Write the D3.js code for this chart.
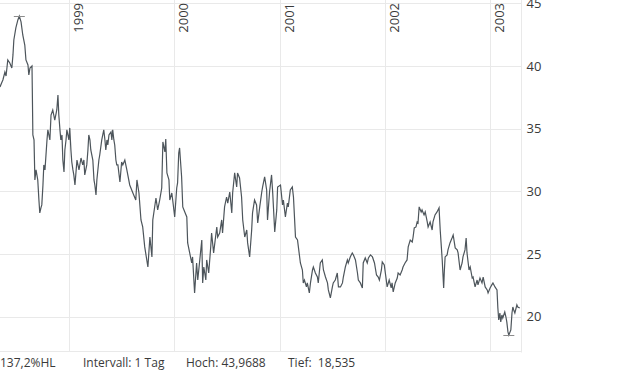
<!DOCTYPE html>
<html>
<head>
<meta charset="utf-8">
<script src="https://cdn.jsdelivr.net/npm/d3@7"></script>
<style>
  body { margin: 0; background: #fff; }
  text { font-family: "Open Sans", "Noto Sans", sans-serif; fill: #3a3a3a; }
</style>
</head>
<body>
<svg id="chart" width="620" height="372"></svg>
<script>
// [day of year, close] per year
const close1998 = [
  [126, 38.33], [133, 38.72], [136, 38.88], [143, 39.52], [147, 39.2], [153, 40.48],
  [160, 40.24], [167, 39.84], [171, 40.88], [174, 42.07], [181, 43.03], [188, 43.67],
  [193, 43.9688], [199, 43.51], [205, 42.47], [212, 41.67], [216, 40.48], [223, 40.08],
  [226, 39.28], [230, 39.84], [237, 40.0], [238, 38.25], [240, 34.5], [244, 34.1],
  [247, 30.91], [251, 31.71], [254, 31.31], [257, 30.91], [261, 29.31], [264, 28.28],
  [268, 28.68], [271, 28.92], [275, 30.51], [278, 32.11], [282, 31.71], [289, 34.1],
  [292, 34.9], [299, 34.1], [303, 36.09], [309, 36.49], [316, 35.69], [323, 36.49],
  [327, 37.69], [330, 36.09], [334, 34.9], [337, 34.1], [341, 34.5], [344, 32.5],
  [348, 31.55], [351, 33.3], [355, 34.1], [358, 34.9], [365, 34.1]
];
const close1999 = [
  [3, 35.06], [7, 33.3], [10, 32.34], [14, 31.71], [17, 31.31], [21, 30.51], [28, 32.5],
  [35, 31.71], [42, 32.66], [48, 32.11], [52, 32.5], [55, 31.31], [62, 32.11], [66, 33.3],
  [69, 34.5], [73, 34.1], [76, 33.3], [83, 32.5], [87, 30.91], [90, 30.51], [94, 29.71],
  [97, 30.91], [104, 32.5], [107, 32.9], [114, 34.1], [121, 34.9], [125, 34.1], [128, 33.3],
  [132, 34.1], [135, 33.7], [139, 34.5], [146, 34.74], [149, 34.1], [152, 34.9], [156, 34.1],
  [159, 33.7], [163, 32.5], [166, 32.11], [170, 32.11], [177, 30.75], [183, 32.34],
  [187, 32.11], [194, 32.5], [201, 31.71], [211, 30.51], [222, 29.87], [232, 29.31],
  [236, 30.91], [243, 29.87], [250, 27.72], [256, 27.16], [263, 25.57], [274, 23.97],
  [281, 26.36], [288, 24.77], [291, 27.72], [302, 29.47], [308, 28.52], [315, 29.31],
  [322, 30.27], [326, 33.94], [333, 33.14], [336, 34.18], [340, 31.47], [347, 30.91],
  [350, 29.31], [357, 29.87], [360, 29.31]
];
const close2000 = [
  [2, 27.96], [9, 30.27], [12, 30.67], [16, 33.06], [19, 33.46], [26, 31.15], [30, 28.76],
  [37, 28.36], [44, 27.96], [47, 25.89], [54, 25.09], [61, 24.29], [64, 24.77], [71, 21.9],
  [78, 24.29], [82, 22.93], [89, 24.53], [96, 26.12], [99, 22.7], [103, 23.97], [110, 22.93],
  [113, 24.53], [120, 23.49], [127, 25.57], [130, 26.68], [137, 25.09], [148, 27.16],
  [151, 26.36], [158, 26.68], [165, 27.72], [168, 26.68], [175, 28.76], [182, 29.55],
  [186, 29.07], [193, 29.95], [200, 28.28], [203, 29.87], [210, 31.47], [217, 30.35],
  [220, 31.47], [227, 31.07], [234, 29.55], [238, 27.72], [245, 26.36], [252, 26.92],
  [255, 25.89], [262, 24.77], [269, 26.92], [272, 28.28], [279, 29.31], [286, 28.92],
  [290, 27.48], [297, 28.76], [304, 29.95], [307, 30.35], [314, 31.15], [321, 30.11],
  [324, 27.72], [331, 29.95], [338, 31.31], [342, 29.87], [349, 26.76], [356, 28.52],
  [359, 30.35]
];
const close2001 = [
  [3, 30.51], [10, 28.92], [13, 29.31], [20, 27.96], [27, 29.07], [30, 28.76], [37, 30.11],
  [44, 30.35], [48, 29.55], [55, 26.36], [62, 26.12], [65, 25.57], [72, 24.29], [79, 23.73],
  [82, 22.7], [86, 22.93], [93, 22.38], [96, 22.7], [103, 21.9], [107, 22.7], [114, 23.73],
  [117, 23.97], [124, 23.49], [131, 23.17], [134, 22.7], [141, 24.29], [148, 24.53],
  [152, 23.73], [159, 23.17], [166, 22.7], [169, 22.14], [176, 21.5], [183, 22.38],
  [186, 22.7], [193, 22.93], [200, 23.49], [204, 22.38], [211, 22.38], [218, 22.7],
  [221, 23.17], [228, 23.97], [235, 24.53], [238, 24.29], [245, 24.77], [252, 25.09],
  [256, 24.93], [263, 24.53], [270, 23.49], [273, 22.93], [280, 22.7], [287, 22.3],
  [290, 24.29], [297, 24.69], [304, 24.29], [308, 24.69], [315, 24.93], [322, 24.77],
  [329, 24.29], [336, 23.33], [342, 23.17], [346, 22.93], [353, 23.73], [356, 24.37],
  [363, 24.13]
];
const close2002 = [
  [4, 23.09], [8, 22.38], [15, 22.93], [22, 22.3], [25, 22.7], [29, 21.98], [36, 22.7],
  [43, 23.09], [46, 23.49], [53, 23.33], [60, 23.73], [63, 23.97], [70, 24.29], [77, 24.53],
  [81, 25.57], [88, 26.12], [95, 25.96], [98, 26.36], [102, 27.08], [108, 27.16], [112, 27.56],
  [115, 27.48], [119, 28.76], [126, 28.36], [129, 28.52], [136, 28.12], [140, 28.36],
  [147, 27.56], [150, 27.16], [157, 27.56], [164, 26.92], [167, 27.56], [174, 28.12],
  [181, 28.36], [188, 28.68], [192, 26.92], [195, 25.89], [199, 24.53], [202, 23.17],
  [204, 22.3], [206, 23.49], [209, 24.77], [216, 24.93], [219, 25.33], [226, 25.89],
  [233, 26.28], [237, 26.52], [244, 25.49], [251, 25.33], [254, 25.09], [261, 23.73],
  [268, 24.29], [271, 24.77], [278, 25.33], [282, 26.28], [285, 25.09], [292, 23.73],
  [296, 23.97], [303, 23.09], [306, 23.17], [313, 22.38], [320, 22.93], [323, 22.54],
  [330, 23.09], [337, 22.7], [341, 23.17], [348, 22.38], [355, 22.14], [358, 21.9],
  [365, 22.3]
];
const close2003 = [
  [6, 22.54], [10, 22.7], [17, 22.38], [24, 22.14], [27, 20.7], [30, 19.74], [34, 20.3],
  [37, 19.59], [41, 20.14], [44, 19.9], [51, 20.38], [55, 19.98], [58, 19.59], [62, 18.79],
  [65, 18.535], [72, 18.95], [76, 20.3], [79, 20.78], [82, 20.54], [86, 20.3], [93, 20.94],
  [96, 20.78], [103, 20.7]
];

const xDomain = ["1998-05-06", "2003-04-19"];
const yDomain = [17.19, 45.26];
const yTicks = [20, 25, 30, 35, 40, 45];
const yearTicks = ["1999", "2000", "2001", "2002", "2003"];
const footer = [
  { text: "137,2%HL", x: 0 },
  { text: "Intervall: 1 Tag", x: 83 },
  { text: "Hoch: 43,9688", x: 186 },
  { text: "Tief:  18,535", x: 288 }
];

const parseDay = d3.utcParse("%Y-%j");
const parseDate = d3.utcParse("%Y-%m-%d");

const byYear = { 1998: close1998, 1999: close1999, 2000: close2000, 2001: close2001, 2002: close2002, 2003: close2003 };
const data = [];
Object.entries(byYear).forEach(([year, rows]) => {
  rows.forEach(([day, value]) => {
    data.push({ date: parseDay(year + "-" + String(day).padStart(3, "0")), value });
  });
});

const width = 521.5;
const height = 352;

const svg = d3.select("#chart");

const x = d3.scaleUtc().domain(xDomain.map(parseDate)).range([0, width]);
const y = d3.scaleLinear().domain(yDomain).range([height, 0]);

const grid = svg.append("g").attr("stroke", "#e9e9e9").attr("stroke-width", 1);

grid.selectAll("line.h")
  .data(yTicks)
  .join("line")
  .attr("class", "h")
  .attr("x1", 0)
  .attr("x2", width)
  .attr("y1", (d) => Math.round(y(d)) + 0.5)
  .attr("y2", (d) => Math.round(y(d)) + 0.5);

grid.selectAll("line.v")
  .data(yearTicks)
  .join("line")
  .attr("class", "v")
  .attr("x1", (d) => Math.round(x(parseDay(d + "-001"))) + 0.5)
  .attr("x2", (d) => Math.round(x(parseDay(d + "-001"))) + 0.5)
  .attr("y1", 0)
  .attr("y2", height);

// frame right and bottom
grid.append("line")
  .attr("x1", width).attr("x2", width)
  .attr("y1", 0).attr("y2", height + 0.5);
grid.append("line")
  .attr("x1", 0).attr("x2", width)
  .attr("y1", height - 0.5).attr("y2", height - 0.5);

// right axis labels
const yAxis = d3.axisRight(y).tickValues(yTicks).tickSize(0).tickPadding(5);
svg.append("g")
  .attr("transform", `translate(${width},0)`)
  .call(yAxis)
  .call((g) => g.select(".domain").remove())
  .call((g) => g.selectAll("text")
    .attr("fill", "#3a3a3a")
    .style("font-size", "13px")
    .style("font-family", "'Open Sans', 'Noto Sans', sans-serif"));

// year labels, rotated along the gridlines
svg.append("g")
  .selectAll("text")
  .data(yearTicks)
  .join("text")
  .attr("transform", (d) => `translate(${x(parseDay(d + "-001")) + 14},3) rotate(-90)`)
  .attr("text-anchor", "end")
  .style("font-size", "13px")
  .text((d) => d);

// price line
const line = d3.line()
  .x((d) => x(d.date))
  .y((d) => y(d.value));

svg.append("path")
  .datum(data)
  .attr("fill", "none")
  .attr("stroke", "#4d555b")
  .attr("stroke-width", 1.2)
  .attr("stroke-linejoin", "miter")
  .attr("d", line);

// high / low markers
const hi = d3.greatest(data, (d) => d.value);
const lo = d3.least(data, (d) => d.value);
svg.append("g")
  .attr("stroke", "#8c8c8c")
  .selectAll("line")
  .data([hi, lo])
  .join("line")
  .attr("x1", (d) => x(d.date) - 5.5)
  .attr("x2", (d) => x(d.date) + 5.5)
  .attr("y1", (d) => Math.round(y(d.value)) + 0.5)
  .attr("y2", (d) => Math.round(y(d.value)) + 0.5);

// footer stats
svg.append("g")
  .selectAll("text")
  .data(footer)
  .join("text")
  .attr("x", (d) => d.x)
  .attr("y", 367)
  .style("font-size", "12px")
  .style("white-space", "pre")
  .text((d) => d.text);
</script>
</body>
</html>
